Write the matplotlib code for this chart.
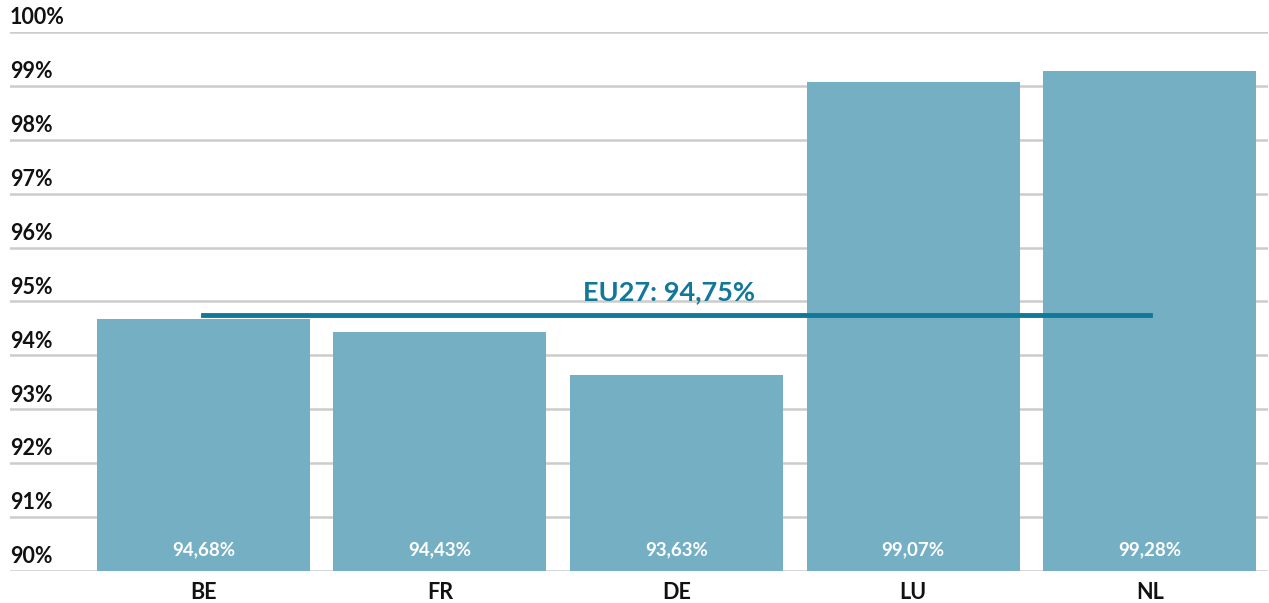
import matplotlib.pyplot as plt
import matplotlib.transforms as mtransforms

# data
countries = ["BE", "FR", "DE", "LU", "NL"]
shares = [94.68, 94.43, 93.63, 99.07, 99.28]
eu27 = 94.75
y_ticks = [90, 91, 92, 93, 94, 95, 96, 97, 98, 99, 100]

BAR_COLOR = "#74AFC4"
LINE_COLOR = "#12789A"
GRID_COLOR = "#CCCCCC"

plt.rcParams["font.family"] = ["Lato", "DejaVu Sans"]

W, H = 1269, 603
fig = plt.figure(figsize=(W / 100, H / 100), dpi=100)
# axes from x=10px to 1268px, y from 32px to 571px
ax = fig.add_axes([10 / W, 32 / H, 1258 / W, 539 / H])

x = list(range(len(countries)))
ax.bar(x, [s - 90 for s in shares], bottom=90, width=0.9, color=BAR_COLOR, zorder=2)

ax.set_xlim(-0.5 - 75 / 236.5, len(countries) - 0.5)
ax.set_ylim(90, 100)

# gridlines
for t in y_ticks:
    ax.axhline(t, color=GRID_COLOR, linewidth=1.8, zorder=1)

# y labels sit above gridlines at left
trans = mtransforms.blended_transform_factory(ax.transAxes, ax.transData)
for t in y_ticks:
    ax.text(0, t + 0.07, f"{t}%", transform=trans, ha="left", va="bottom",
            fontsize=15.5, fontweight="bold", color="#111111")

# value labels inside bars
for xi, s in zip(x, shares):
    ax.text(xi, 90.4, f"{s:.2f}%".replace(".", ","), ha="center", va="center",
            fontsize=13.5, fontweight="bold", color="white", zorder=3)

# EU27 average line
ax.plot([0, len(countries) - 1], [eu27, eu27], color=LINE_COLOR, linewidth=3.5, zorder=4)
ax.text(1.97, eu27 + 0.2, f"EU27: {eu27:.2f}%".replace(".", ","), ha="center", va="bottom",
        fontsize=19.5, fontweight="bold", color=LINE_COLOR, zorder=4)

ax.set_xticks(x)
ax.set_xticklabels(countries, fontsize=15.5, fontweight="bold", color="#111111")
ax.tick_params(axis="x", length=0, pad=8)
ax.set_yticks([])
for sp in ax.spines.values():
    sp.set_visible(False)

fig.savefig("out.png", dpi=100)
